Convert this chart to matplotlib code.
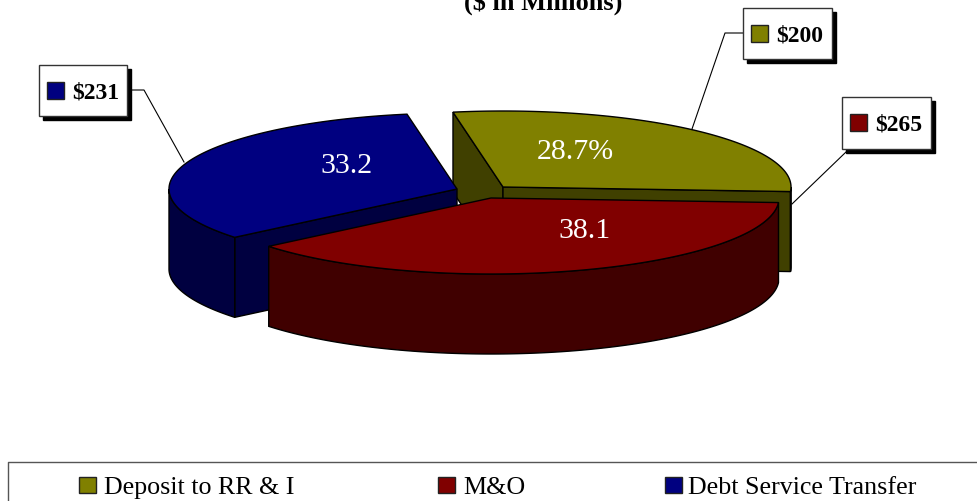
import numpy as np
from matplotlib import pyplot as plt
from matplotlib.patches import Polygon, Rectangle

categories = ["Deposit to RR & I", "M&O", "Debt Service Transfer"]
amounts = [200, 265, 231]
share_labels = ["28.7%", "38.1", "33.2"]
colors = ["#808000", "#800000", "#000080"]
dark_colors = ["#404000", "#400000", "#000040"]

# pie geometry, pixel coordinates with y going down
RX, RY, DEPTH = 288, 76, 80
START = -10
centers = [(503, 188), (491, 199), (457, 190)]
label_pos = [(575, 152), (584, 231), (346, 166)]
callouts = [
    ((743, 9, 89, 51), [(743, 34), (725, 34), (692, 130)]),
    ((842, 98, 89, 52), [(846, 153), (792, 205)]),
    ((39, 66, 88, 51), [(127, 91), (144, 91), (184, 163)]),
]
legend_swatch_x = [79, 438, 665]
legend_text_x = [104, 463, 688]


def rim(center, a0, a1):
    # angles run clockwise from the top of the pie
    t = np.radians(np.linspace(a0, a1, 200))
    return np.column_stack([center[0] + RX * np.sin(t), center[1] - RY * np.cos(t)])


def wall(top):
    bottom = top[::-1] + [0, DEPTH]
    return np.vstack([top, bottom])


fig = plt.figure(figsize=(9.77, 5.02), dpi=100)
ax = fig.add_axes([0, 0, 1, 1])
ax.set_xlim(0, 977)
ax.set_ylim(502, 0)
ax.axis("off")
plt.rcParams["font.family"] = ["Liberation Serif", "DejaVu Serif"]

shares = np.array(amounts) / sum(amounts)
edges = START + np.concatenate([[0], np.cumsum(shares)]) * 360

for i in [0, 2, 1]:
    c = np.array(centers[i], dtype=float)
    a0, a1 = edges[i], edges[i + 1]
    arc = rim(c, a0, a1)
    # cut faces that look toward the viewer
    if i == 0:
        ax.add_patch(Polygon(wall(np.array([arc[0], c])), fc=dark_colors[i], ec="black", lw=1))
        ax.add_patch(Polygon(wall(np.array([c, arc[-1]])), fc=dark_colors[i], ec="black", lw=1))
    if i == 2:
        ax.add_patch(Polygon(wall(np.array([c, arc[0]])), fc=dark_colors[i], ec="black", lw=1))
    # outer side, only the front half of the rim shows
    lo, hi = max(a0, 90), min(a1, 270)
    if hi > lo:
        ax.add_patch(Polygon(wall(rim(c, lo, hi)), fc=dark_colors[i], ec="black", lw=1))
    ax.add_patch(Polygon(np.vstack([c, arc]), fc=colors[i], ec="black", lw=1))
    ax.text(*label_pos[i], share_labels[i], color="white", fontsize=21.5,
            ha="center", va="center")

# boxed value callouts with leader lines
for i, ((x, y, w, h), leader) in enumerate(callouts):
    pts = np.array(leader)
    ax.plot(pts[:, 0], pts[:, 1], color="black", lw=0.8, zorder=5)
    ax.add_patch(Rectangle((x + 4, y + 4), w, h, fc="black", ec="black", zorder=6))
    ax.add_patch(Rectangle((x, y), w, h, fc="white", ec="#333333", lw=1, zorder=7))
    ax.add_patch(Rectangle((x + 8, y + 17), 17, 17, fc=colors[i], ec="#222222", lw=1, zorder=8))
    ax.text(x + 33, y + 27, f"${amounts[i]}", fontsize=17, fontweight="bold",
            ha="left", va="center", zorder=8)

ax.text(543, 10, "($ in Millions)", fontsize=19, fontweight="bold",
        ha="center", va="baseline")

# legend strip along the bottom, open at the right and bottom edges
ax.plot([990, 8, 8], [463, 463, 510], color="#555555", lw=1)
for i, name in enumerate(categories):
    ax.add_patch(Rectangle((legend_swatch_x[i] + 1, 479), 17, 16, fc="#333333", ec="none"))
    ax.add_patch(Rectangle((legend_swatch_x[i], 478), 17, 16, fc=colors[i], ec="#222222", lw=1))
    ax.text(legend_text_x[i], 488, name, fontsize=18.7, ha="left", va="center")

fig.savefig("out.png", dpi=100)
